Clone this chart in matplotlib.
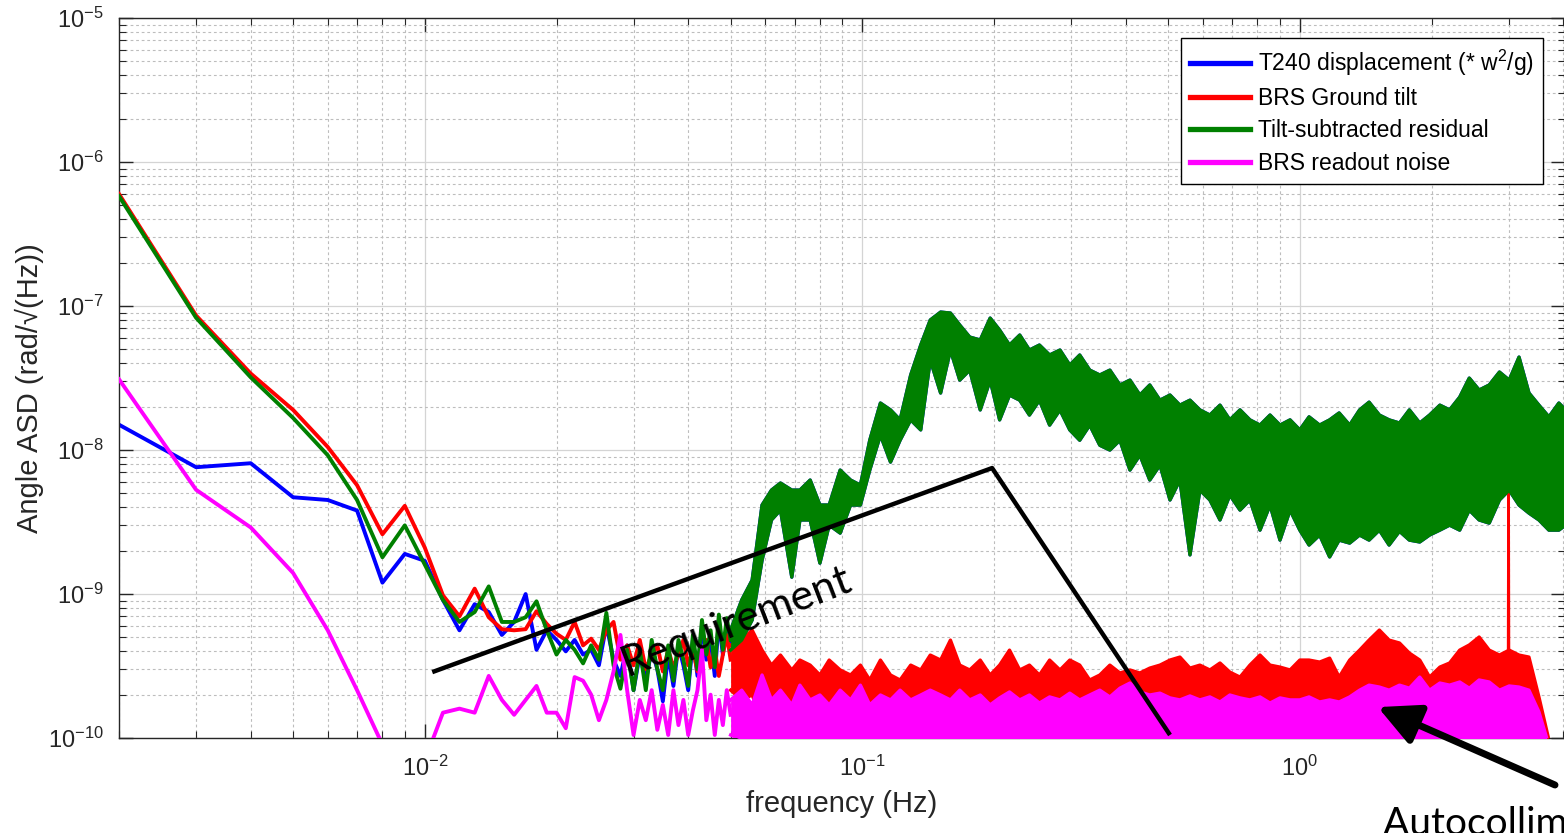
"""Tilt-subtracted residual vs BRS ground tilt, angle ASD on log-log axes."""

import matplotlib

matplotlib.use("Agg")

import matplotlib.pyplot as plt
import numpy as np
from matplotlib.ticker import LogLocator, NullFormatter

plt.rcParams["font.family"] = ["Liberation Sans", "DejaVu Sans"]
plt.rcParams["mathtext.default"] = "regular"

BLUE, RED, GREEN, MAGENTA = "#0000ff", "#ff0000", "#008000", "#ff00ff"
INK = "#262626"

# ---- 0.002 - 0.050 Hz, one value per 1 mHz bin ----
freq_low = [0.002, 0.003, 0.004, 0.005, 0.006, 0.007, 0.008, 0.009, 0.010,
            0.011, 0.012, 0.013, 0.014, 0.015, 0.016, 0.017, 0.018, 0.019,
            0.020, 0.021, 0.022, 0.023, 0.024, 0.025, 0.026, 0.027, 0.028,
            0.029, 0.030, 0.031, 0.032, 0.033, 0.034, 0.035, 0.036, 0.037,
            0.038, 0.039, 0.040, 0.041, 0.042, 0.043, 0.044, 0.045, 0.046,
            0.047, 0.048, 0.049, 0.050]
t240_low = [1.5e-8, 7.6e-9, 8.1e-9, 4.7e-9, 4.5e-9, 3.8e-9, 1.2e-9, 1.9e-9, 1.7e-9,
            9.1e-10, 5.6e-10, 8.5e-10, 7.5e-10, 5.2e-10, 6.4e-10, 1.0e-9, 4.1e-10, 5.6e-10,
            4.8e-10, 4.0e-10, 4.8e-10, 3.8e-10, 4.1e-10, 3.2e-10, 6.1e-10, 3.5e-10, 2.7e-10,
            4.4e-10, 2.15e-10, 3.8e-10, 2.5e-10, 4.1e-10, 3.0e-10, 1.8e-10, 3.8e-10, 2.3e-10,
            4.4e-10, 3.2e-10, 2.15e-10, 4.8e-10, 2.7e-10, 6.1e-10, 3.5e-10, 4.8e-10, 2.7e-10,
            6.6e-10, 3.8e-10, 6.1e-10, 4.4e-10]
tilt_low = [6.0e-7, 8.6e-8, 3.4e-8, 1.9e-8, 1.05e-8, 5.7e-9, 2.6e-9, 4.1e-9, 2.1e-9,
            9.8e-10, 7.0e-10, 1.09e-9, 6.9e-10, 5.7e-10, 5.6e-10, 5.7e-10, 7.6e-10, 6.2e-10,
            5.3e-10, 4.8e-10, 6.4e-10, 4.4e-10, 4.9e-10, 4.1e-10, 5.6e-10, 6.4e-10, 3.5e-10,
            4.4e-10, 3.2e-10, 4.8e-10, 3.0e-10, 3.8e-10, 4.4e-10, 2.9e-10, 4.1e-10, 3.1e-10,
            3.8e-10, 4.8e-10, 3.2e-10, 4.1e-10, 2.9e-10, 3.8e-10, 4.8e-10, 3.1e-10, 4.1e-10,
            2.7e-10, 3.8e-10, 5.2e-10, 3.5e-10]
resid_low = [5.8e-7, 8.3e-8, 3.2e-8, 1.67e-8, 9.2e-9, 4.5e-9, 1.8e-9, 3.0e-9, 1.6e-9,
             9.1e-10, 6.4e-10, 7.5e-10, 1.13e-9, 6.4e-10, 6.4e-10, 6.9e-10, 8.9e-10, 5.6e-10,
             3.8e-10, 4.8e-10, 4.1e-10, 3.3e-10, 4.4e-10, 3.5e-10, 7.4e-10, 3.2e-10, 2.2e-10,
             4.1e-10, 2.15e-10, 4.1e-10, 2.15e-10, 4.8e-10, 3.0e-10, 2.15e-10, 4.4e-10, 2.5e-10,
             4.8e-10, 3.5e-10, 2.3e-10, 5.2e-10, 3.0e-10, 6.6e-10, 3.8e-10, 5.6e-10, 3.1e-10,
             7.2e-10, 4.1e-10, 6.8e-10, 4.8e-10]
readout_low = [3.1e-8, 5.3e-9, 2.9e-9, 1.4e-9, 5.6e-10, 2.15e-10, 9.0e-11, 4.5e-11, 7.0e-11,
               1.5e-10, 1.6e-10, 1.5e-10, 2.7e-10, 1.84e-10, 1.45e-10, 1.84e-10, 2.3e-10, 1.5e-10,
               1.5e-10, 1.17e-10, 2.65e-10, 2.5e-10, 2.0e-10, 1.33e-10, 1.84e-10, 2.9e-10, 5.2e-10,
               2.15e-10, 1.05e-10, 1.84e-10, 1.33e-10, 2.15e-10, 1.14e-10, 1.7e-10, 1.05e-10, 2.15e-10,
               1.23e-10, 1.84e-10, 1.05e-10, 1.56e-10, 2.15e-10, 4.1e-10, 1.33e-10, 2.0e-10, 1.05e-10,
               1.84e-10, 1.23e-10, 2.15e-10, 1.45e-10]

# ---- 0.05 - 4 Hz: dense spectra, upper / lower edges of each trace ----
freq_high = [0.050, 0.053, 0.056, 0.059, 0.062, 0.065, 0.069, 0.072, 0.076, 0.080,
             0.084, 0.089, 0.094, 0.099, 0.104, 0.110, 0.116, 0.122, 0.129, 0.136,
             0.143, 0.151, 0.159, 0.167, 0.176, 0.186, 0.196, 0.206, 0.217, 0.229,
             0.241, 0.254, 0.268, 0.283, 0.298, 0.314, 0.331, 0.349, 0.368, 0.388,
             0.409, 0.431, 0.454, 0.479, 0.505, 0.532, 0.561, 0.591, 0.623, 0.657,
             0.692, 0.730, 0.769, 0.811, 0.855, 0.901, 0.950, 1.00, 1.05, 1.11,
             1.17, 1.23, 1.30, 1.37, 1.44, 1.52, 1.60, 1.69, 1.78, 1.88,
             1.98, 2.09, 2.20, 2.32, 2.44, 2.57, 2.71, 2.86, 3.01, 3.17,
             3.34, 3.52, 3.71, 3.91, 4.05]
resid_hi = [5.62e-10, 9.08e-10, 1.25e-9, 4.15e-9, 5.27e-9, 5.9e-9, 5.27e-9, 5.27e-9, 6.19e-9, 4.15e-9,
            4.15e-9, 7.26e-9, 6.19e-9, 5.71e-9, 1.17e-8, 2.12e-8, 1.9e-8, 1.62e-8, 3.32e-8, 5.36e-8,
            8.0e-8, 9.08e-8, 8.94e-8, 7.38e-8, 6.09e-8, 5.81e-8, 8.25e-8, 6.81e-8, 5.36e-8, 6.29e-8,
            4.95e-8, 5.36e-8, 4.57e-8, 4.95e-8, 3.89e-8, 4.57e-8, 3.59e-8, 3.32e-8, 3.59e-8, 2.83e-8,
            3.06e-8, 2.41e-8, 2.83e-8, 2.22e-8, 2.41e-8, 2.05e-8, 2.22e-8, 1.9e-8, 1.75e-8, 2.05e-8,
            1.62e-8, 1.9e-8, 1.62e-8, 1.49e-8, 1.75e-8, 1.49e-8, 1.62e-8, 1.38e-8, 1.7e-8, 1.49e-8,
            1.62e-8, 1.81e-8, 1.49e-8, 1.9e-8, 2.15e-8, 1.75e-8, 1.62e-8, 1.54e-8, 1.9e-8, 1.54e-8,
            1.75e-8, 2.05e-8, 1.9e-8, 2.33e-8, 3.16e-8, 2.61e-8, 2.83e-8, 3.48e-8, 3.06e-8, 4.42e-8,
            2.49e-8, 2.05e-8, 1.7e-8, 2.12e-8, 1.9e-8]
resid_lo = [4.08e-10, 4.79e-10, 6.6e-10, 1.72e-9, 3.27e-9, 3.83e-9, 1.31e-9, 3.27e-9, 3.27e-9, 1.64e-9,
            3.01e-9, 2.65e-9, 4.15e-9, 4.15e-9, 7.26e-9, 1.27e-8, 8.25e-9, 1.17e-8, 1.62e-8, 1.38e-8,
            4.22e-8, 2.49e-8, 4.95e-8, 3.06e-8, 3.59e-8, 1.9e-8, 3.06e-8, 1.62e-8, 2.41e-8, 2.22e-8,
            1.75e-8, 2.22e-8, 1.49e-8, 1.9e-8, 1.38e-8, 1.17e-8, 1.49e-8, 1.08e-8, 1.0e-8, 1.17e-8,
            7.26e-9, 9.23e-9, 6.19e-9, 7.87e-9, 4.5e-9, 6.19e-9, 1.87e-9, 5.27e-9, 4.5e-9, 3.27e-9,
            4.87e-9, 3.83e-9, 4.5e-9, 2.78e-9, 4.15e-9, 2.37e-9, 3.83e-9, 2.78e-9, 2.19e-9, 2.57e-9,
            1.81e-9, 2.37e-9, 2.26e-9, 2.57e-9, 2.37e-9, 2.78e-9, 2.19e-9, 2.73e-9, 2.37e-9, 2.3e-9,
            2.57e-9, 2.78e-9, 3.01e-9, 2.78e-9, 3.83e-9, 3.27e-9, 3.11e-9, 4.5e-9, 5.27e-9, 4.15e-9,
            3.65e-9, 3.27e-9, 2.78e-9, 2.78e-9, 3.01e-9]
tilt_hi = [4.43e-10, 4.79e-10, 5.62e-10, 4.08e-10, 3.21e-10, 3.77e-10, 2.97e-10, 3.48e-10, 3.21e-10, 2.74e-10,
           3.48e-10, 2.97e-10, 2.74e-10, 3.21e-10, 2.53e-10, 3.48e-10, 2.74e-10, 2.53e-10, 3.21e-10, 2.97e-10,
           3.77e-10, 3.48e-10, 4.79e-10, 3.21e-10, 2.97e-10, 3.48e-10, 2.74e-10, 3.21e-10, 4.08e-10, 2.97e-10,
           3.21e-10, 2.74e-10, 3.48e-10, 2.97e-10, 3.48e-10, 3.21e-10, 2.53e-10, 2.74e-10, 3.21e-10, 2.83e-10,
           2.97e-10, 2.83e-10, 3.06e-10, 3.21e-10, 3.48e-10, 3.65e-10, 3.06e-10, 3.21e-10, 2.97e-10, 3.32e-10,
           2.87e-10, 2.65e-10, 3.21e-10, 3.77e-10, 3.21e-10, 3.11e-10, 2.97e-10, 3.48e-10, 3.48e-10, 3.37e-10,
           3.59e-10, 2.65e-10, 3.48e-10, 4.08e-10, 4.79e-10, 5.62e-10, 4.79e-10, 4.57e-10, 3.89e-10, 3.48e-10,
           2.65e-10, 3.11e-10, 3.32e-10, 4.08e-10, 4.43e-10, 5.03e-10, 4.08e-10, 3.77e-10, 4.08e-10, 3.77e-10,
           3.65e-10, 1.93e-10, 9.7e-11, 7.0e-11, 6.0e-11]
tilt_lo = [2.15e-10, 1.84e-10, 1.99e-10, 1.33e-10, 1.56e-10, 1.23e-10, 1.44e-10, 1.14e-10, 1.33e-10, 1.05e-10,
           1.33e-10, 1.14e-10, 1.23e-10, 1.05e-10, 1.23e-10, 1.14e-10, 1.05e-10, 1.23e-10, 1.14e-10, 1.05e-10,
           1.33e-10, 1.23e-10, 1.44e-10, 1.33e-10, 1.23e-10, 1.33e-10, 1.14e-10, 1.33e-10, 1.44e-10, 1.23e-10,
           1.33e-10, 1.14e-10, 1.44e-10, 1.33e-10, 1.44e-10, 1.33e-10, 1.23e-10, 1.33e-10, 1.44e-10, 1.33e-10,
           1.44e-10, 1.33e-10, 1.44e-10, 1.56e-10, 1.52e-10, 1.56e-10, 1.44e-10, 1.52e-10, 1.44e-10, 1.56e-10,
           1.38e-10, 1.44e-10, 1.52e-10, 1.56e-10, 1.44e-10, 1.56e-10, 1.44e-10, 1.52e-10, 1.56e-10, 1.52e-10,
           1.62e-10, 1.52e-10, 1.7e-10, 1.84e-10, 1.99e-10, 2.15e-10, 1.99e-10, 1.99e-10, 1.84e-10, 1.7e-10,
           1.56e-10, 1.62e-10, 1.7e-10, 1.84e-10, 1.84e-10, 1.99e-10, 1.84e-10, 1.7e-10, 1.84e-10, 1.7e-10,
           1.56e-10, 1.23e-10, 7.0e-11, 5.1e-11, 4.4e-11]
readout_hi = [1.84e-10, 2.15e-10, 1.7e-10, 2.74e-10, 1.84e-10, 2.15e-10, 1.7e-10, 2.33e-10, 1.84e-10, 1.99e-10,
              1.7e-10, 2.15e-10, 1.84e-10, 2.33e-10, 1.7e-10, 1.99e-10, 1.84e-10, 2.15e-10, 1.84e-10, 1.99e-10,
              2.15e-10, 1.99e-10, 1.84e-10, 2.15e-10, 1.84e-10, 1.99e-10, 1.7e-10, 1.9e-10, 2.09e-10, 1.84e-10,
              1.99e-10, 1.75e-10, 1.93e-10, 1.84e-10, 2.05e-10, 1.84e-10, 1.99e-10, 2.15e-10, 1.93e-10, 2.22e-10,
              2.41e-10, 2.09e-10, 1.99e-10, 2.05e-10, 1.9e-10, 1.84e-10, 1.96e-10, 1.84e-10, 1.93e-10, 1.78e-10,
              1.99e-10, 1.9e-10, 1.84e-10, 1.93e-10, 1.75e-10, 1.9e-10, 1.84e-10, 1.84e-10, 1.93e-10, 1.78e-10,
              1.84e-10, 1.78e-10, 1.93e-10, 2.15e-10, 2.33e-10, 2.26e-10, 2.15e-10, 2.33e-10, 2.22e-10, 2.65e-10,
              2.15e-10, 2.41e-10, 2.33e-10, 2.45e-10, 2.22e-10, 2.53e-10, 2.45e-10, 2.15e-10, 2.3e-10, 2.26e-10,
              2.15e-10, 1.52e-10, 8.9e-11, 6.0e-11, 5.1e-11]
readout_lo = [1.05e-10, 9.7e-11, 8.9e-11, 9.7e-11, 8.9e-11, 9.7e-11, 8.9e-11, 9.7e-11, 8.9e-11, 8.9e-11,
              8.9e-11, 8.9e-11, 8.9e-11, 8.9e-11, 8.9e-11, 8.9e-11, 8.9e-11, 8.9e-11, 8.9e-11, 8.9e-11,
              8.9e-11, 8.9e-11, 8.9e-11, 8.9e-11, 8.9e-11, 8.9e-11, 8.9e-11, 8.9e-11, 8.9e-11, 8.9e-11,
              8.9e-11, 8.9e-11, 8.9e-11, 8.9e-11, 8.9e-11, 8.9e-11, 8.9e-11, 8.9e-11, 8.9e-11, 8.9e-11,
              8.9e-11, 8.9e-11, 8.9e-11, 8.9e-11, 8.9e-11, 8.9e-11, 8.9e-11, 8.9e-11, 8.9e-11, 8.9e-11,
              8.9e-11, 8.9e-11, 8.9e-11, 8.9e-11, 8.9e-11, 8.9e-11, 8.9e-11, 8.9e-11, 8.9e-11, 8.9e-11,
              8.9e-11, 8.9e-11, 8.9e-11, 8.9e-11, 8.9e-11, 8.9e-11, 8.9e-11, 8.9e-11, 8.9e-11, 8.9e-11,
              8.9e-11, 8.9e-11, 8.9e-11, 8.9e-11, 8.9e-11, 8.9e-11, 8.9e-11, 8.9e-11, 8.9e-11, 8.9e-11,
              8.9e-11, 8.9e-11, 6.0e-11, 5.0e-11, 4.4e-11]

# narrow line in the ground-tilt trace near 3 Hz
tilt_line_f = [2.995, 3.0, 3.005]
tilt_line = [4.0e-10, 5.2e-9, 4.0e-10]

# requirement curve drawn over the plot
req_f = [0.0104, 0.198, 0.505]
req_asd = [2.87e-10, 7.5e-9, 1.05e-10]

LABELS = ["T240 displacement (* w$^2$/g)", "BRS Ground tilt",
          "Tilt-subtracted residual", "BRS readout noise"]

fig = plt.figure(figsize=(15.64, 8.33), dpi=100)
ax = fig.add_axes([0.0761, 0.1140, 0.9246, 0.8643])
ax.set_xscale("log")
ax.set_yscale("log")

LW = 2.8


def band(f, lo, hi, color, z):
    ax.fill_between(f, lo, hi, color=color, lw=0, zorder=z)
    ax.plot(f, hi, color=color, lw=2.4, zorder=z)
    ax.plot(f, lo, color=color, lw=2.4, zorder=z)


# T240 matches the residual above 0.05 Hz, so it sits under the green band
ax.plot(freq_low, t240_low, color=BLUE, lw=LW, label=LABELS[0], zorder=2)
band(freq_high, resid_lo, resid_hi, BLUE, 2)
ax.plot(freq_low, tilt_low, color=RED, lw=LW, label=LABELS[1], zorder=3)
band(freq_high, tilt_lo, tilt_hi, RED, 3)
ax.plot(tilt_line_f, tilt_line, color=RED, lw=2, zorder=3)
ax.plot(freq_low, resid_low, color=GREEN, lw=LW, label=LABELS[2], zorder=4)
band(freq_high, resid_lo, resid_hi, GREEN, 4)
ax.plot(freq_low, readout_low, color=MAGENTA, lw=LW, label=LABELS[3], zorder=5)
band(freq_high, readout_lo, readout_hi, MAGENTA, 5)

ax.plot(req_f, req_asd, color="black", lw=3.2, solid_capstyle="butt", zorder=8)
ax.text(0.0515, 6.4e-10, "Requirement", fontsize=31, family=["Lato", "DejaVu Sans"],
        rotation=21, rotation_mode="anchor", ha="center", va="center", zorder=9)

ax.set_xlim(0.002, 4.04)
ax.set_ylim(1e-10, 1e-5)

ax.xaxis.set_major_locator(LogLocator(base=10, numticks=20))
ax.xaxis.set_minor_locator(LogLocator(base=10, subs=np.arange(2, 10), numticks=100))
ax.xaxis.set_minor_formatter(NullFormatter())
ax.yaxis.set_major_locator(LogLocator(base=10, numticks=20))
ax.yaxis.set_minor_locator(LogLocator(base=10, subs=np.arange(2, 10), numticks=100))
ax.yaxis.set_minor_formatter(NullFormatter())

ax.tick_params(which="both", direction="in", top=True, right=True,
               colors=INK, labelsize=17)
ax.tick_params(which="major", length=10, width=1)
ax.tick_params(which="minor", length=5, width=0.8)
ax.tick_params(axis="x", pad=13)
ax.tick_params(axis="y", pad=11)
for s in ax.spines.values():
    s.set_color(INK)
    s.set_linewidth(1.0)

ax.grid(which="major", color="#d4d4d4", lw=0.9, ls="-")
ax.grid(which="minor", color="#bdbdbd", lw=0.8, ls=(0, (2.5, 2.5)))
ax.set_axisbelow(True)

ax.set_xlabel("frequency (Hz)", fontsize=21, color=INK)
ax.set_ylabel("Angle ASD (rad/\u221a(Hz))", fontsize=21, color=INK)
ax.xaxis.set_label_coords(0.5, -0.072)
ax.yaxis.set_label_coords(-0.052, 0.486)

leg = ax.legend(loc="upper right", bbox_to_anchor=(0.985, 0.972), fontsize=16.5,
                fancybox=False, edgecolor="black", framealpha=1, borderaxespad=0,
                handlelength=2.6, labelspacing=0.4, borderpad=0.42, handletextpad=0.35)
leg.get_frame().set_linewidth(1.0)
leg.set_zorder(12)
for line in leg.get_lines():
    line.set_linewidth(3.8)

# pointer to the readout-noise trace, label runs off the right edge
ax.annotate("", xy=(1.508, 1.64e-10), xycoords="data",
            xytext=(1555 / 1564, 48 / 833), textcoords="figure fraction",
            arrowprops=dict(arrowstyle="-|>,head_length=0.9,head_width=0.45",
                            color="black", lw=5, mutation_scale=28, shrinkA=0, shrinkB=0),
            annotation_clip=False, zorder=10)
fig.text(1383 / 1564, -2 / 833, "Autocollimator noise", fontsize=28,
         family=["Lato", "DejaVu Sans"], ha="left", va="baseline")

fig.savefig("out.png", dpi=100)
